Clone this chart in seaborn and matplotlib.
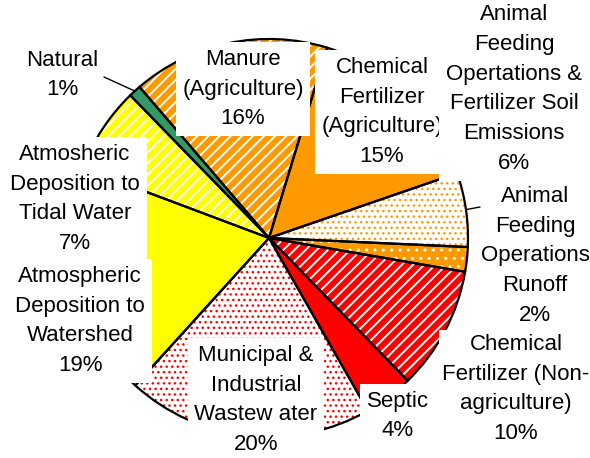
import numpy as np
import matplotlib
matplotlib.use("Agg")
import matplotlib.pyplot as plt
import seaborn as sns

# slices, clockwise from the top
labels = ["Chemical\nFertilizer\n(Agriculture)",
          "Animal\nFeeding\nOpertations &\nFertilizer Soil\nEmissions",
          "Animal\nFeeding\nOperations\nRunoff",
          "Chemical\nFertilizer (Non-\nagriculture)",
          "Septic",
          "Municipal &\nIndustrial\nWastew ater",
          "Atmospheric\nDeposition to\nWatershed",
          "Atmosheric\nDeposition to\nTidal Water",
          "Natural",
          "Manure\n(Agriculture)"]
shares = [15, 6, 2, 10, 4, 20, 19, 7, 1, 16]

ORANGE = "#FF9900"
RED = "#FF0000"
YELLOW = "#FFFF00"
GREEN = "#339966"
face_colors = [ORANGE, "white", ORANGE, RED, RED, "white", YELLOW, YELLOW, GREEN, ORANGE]
hatch_colors = [ORANGE, ORANGE, "white", "white", RED, RED, YELLOW, "white", GREEN, "white"]
hatches = [None, "...", "..", "///", None, "...", None, "///", None, "///"]

# label centres in pixel space (x from left, y from top)
label_pos = [(382, 112), (514, 89), (535, 256), (516, 389), (398, 416),
             (256, 400), (80, 321), (75, 199), (62, 75), (243, 89)]

W, H = 590, 458
CX, CY, R = 269, 238, 199

sns.set_theme(style="white")
plt.rcParams["font.family"] = ["Liberation Sans", "DejaVu Sans"]
plt.rcParams["hatch.linewidth"] = 1.4

fig = plt.figure(figsize=(W / 100, H / 100), dpi=100)
ax = fig.add_axes([0, 0, 1, 1])

# fill + hatch layer (hatch takes the edge colour)
wedges, _ = ax.pie(shares, center=(CX, H - CY), radius=R, startangle=73,
                   counterclock=False, wedgeprops=dict(linewidth=0))
for w, fc, hc, hp in zip(wedges, face_colors, hatch_colors, hatches):
    w.set_facecolor(fc)
    w.set_edgecolor(hc)
    if hp:
        w.set_hatch(hp)
        if "." in hp and hasattr(w, "set_hatch_linewidth"):
            w.set_hatch_linewidth(1.0)

# black outlines on top
ax.pie(shares, center=(CX, H - CY), radius=R, startangle=73,
       counterclock=False,
       wedgeprops=dict(fill=False, edgecolor="black", linewidth=1.6))

for i, (lab, share, (x, y)) in enumerate(zip(labels, shares, label_pos)):
    pad = 0.15 if i == 3 else 0.3
    ax.text(x, H - y, f"{lab}\n{share}%", ha="center", va="center",
            multialignment="center", fontsize=16, linespacing=1.55,
            color="black", zorder=5,
            bbox=dict(boxstyle=f"square,pad={pad}", facecolor="white", edgecolor="none"))

# leader lines for Natural and the 6% slice
for idx, end in [(8, (104, 77)), (1, (480, 207))]:
    w = wedges[idx]
    mid = np.deg2rad((w.theta1 + w.theta2) / 2)
    px, py = CX + R * np.cos(mid), H - CY + R * np.sin(mid)
    ax.annotate("", xy=(px, py), xytext=(end[0], H - end[1]),
                arrowprops=dict(arrowstyle="-", color="black", lw=1.0,
                                shrinkA=0, shrinkB=0), zorder=6)

ax.set_xlim(0, W)
ax.set_ylim(0, H)
ax.set_aspect("equal")
ax.axis("off")

fig.savefig("out.png", dpi=100, facecolor="white")
